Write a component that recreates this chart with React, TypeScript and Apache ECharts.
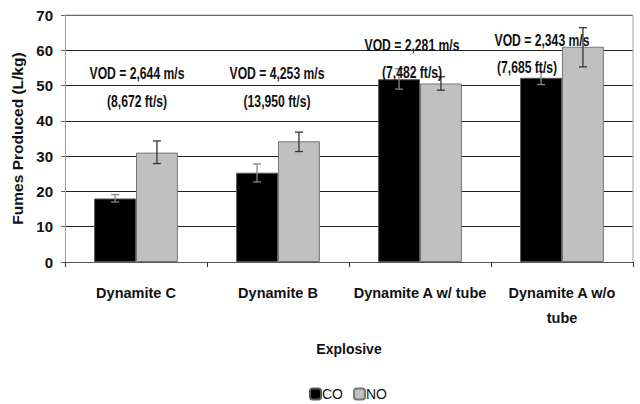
import React, { useEffect, useRef } from "react";
import * as echarts from "echarts";

const categories = ["Dynamite C", "Dynamite B", "Dynamite A w/ tube", "Dynamite A w/o\ntube"];
const coValues = [18.0, 25.3, 51.8, 52.2];
const coLow = [17.0, 22.7, 49.0, 50.3];
const coHigh = [19.1, 27.8, 54.8, 54.0];
const noValues = [31.0, 34.2, 50.6, 61.0];
const noLow = [27.9, 31.3, 48.7, 55.3];
const noHigh = [34.3, 36.8, 52.5, 66.4];
const yTicks = [0, 10, 20, 30, 40, 50, 60, 70];
const vodLines = [
  ["VOD = 2,644 m/s", "(8,672 ft/s)"],
  ["VOD = 4,253 m/s", "(13,950 ft/s)"],
  ["VOD = 2,281 m/s", "(7,482 ft/s)"],
  ["VOD = 2,343 m/s", "(7,685 ft/s)"],
];

const FONT = "'Liberation Sans', Arial, sans-serif";
const GAP = 0.41;

function errorSeries(name: string, low: number[], high: number[], side: number, color: string) {
  return {
    type: "custom",
    name,
    z: 10,
    renderItem: (params: any, api: any) => {
      const idx = api.value(0);
      const lo = api.coord([idx, api.value(1)]);
      const hi = api.coord([idx, api.value(2)]);
      const band = api.size([1, 0])[0];
      const bw = (band * (1 - GAP)) / 2;
      const x = lo[0] + (side * bw) / 2;
      const cap = 4;
      const style = { stroke: color, lineWidth: 1.3 };
      return {
        type: "group",
        children: [
          { type: "line", shape: { x1: x, y1: lo[1], x2: x, y2: hi[1] }, style },
          { type: "line", shape: { x1: x - cap, y1: lo[1], x2: x + cap, y2: lo[1] }, style },
          { type: "line", shape: { x1: x - cap, y1: hi[1], x2: x + cap, y2: hi[1] }, style },
        ],
      };
    },
    data: low.map((l, i) => [i, l, high[i]]),
    tooltip: { show: false },
  };
}

export default function App() {
  const ref = useRef<HTMLDivElement>(null);
  useEffect(() => {
    document.body.style.margin = "0";
    const chart = echarts.init(ref.current!, null, { renderer: "svg" });
    const textStyle = { fontFamily: FONT, fontWeight: "bold", fontSize: 16, fill: "#111" } as any;
    const annPos = [
      [137, 73, 137, 101],
      [277, 73, 277, 101],
      [412, 45, 412, 72],
      [542, 40, 527, 67],
    ];
    const graphics: any[] = [];
    vodLines.forEach((lines, i) => {
      const p = annPos[i];
      graphics.push({ type: "text", x: p[0], y: p[1], scaleX: 0.76, z: 20, style: { ...textStyle, text: lines[0], align: "center", verticalAlign: "middle" } });
      graphics.push({ type: "text", x: p[2], y: p[3], scaleX: 0.76, z: 20, style: { ...textStyle, text: lines[1], align: "center", verticalAlign: "middle" } });
    });
    // gray top and right border of plot area
    graphics.push({ type: "line", z: 5, shape: { x1: 65, y1: 15, x2: 633, y2: 15 }, style: { stroke: "#b0b0b0", lineWidth: 1.2 } });
    graphics.push({ type: "line", z: 5, shape: { x1: 633, y1: 15, x2: 633, y2: 262 }, style: { stroke: "#b0b0b0", lineWidth: 1.2 } });

    chart.setOption({
      animation: false,
      textStyle: { fontFamily: FONT },
      grid: { left: 65, right: 7, top: 15, bottom: 142 },
      legend: {
        top: 387,
        left: 309,
        padding: 0,
        itemWidth: 11,
        itemHeight: 11,
        itemGap: 10,
        textStyle: { fontFamily: FONT, fontSize: 14, color: "#111", padding: [0, 0, 0, -4] },
        data: ["CO", "NO"],
      },
      xAxis: {
        type: "category",
        data: categories,
        name: "Explosive",
        nameLocation: "middle",
        nameGap: 80,
        nameTextStyle: { fontFamily: FONT, fontWeight: "bold", fontSize: 14, color: "#111" },
        axisLine: { lineStyle: { color: "#555", width: 1 } },
        axisTick: { show: true, length: 5, lineStyle: { color: "#333" } },
        axisLabel: { fontFamily: FONT, fontWeight: "bold", fontSize: 14.5, color: "#111", margin: 18, lineHeight: 25, interval: 0 },
      },
      yAxis: {
        type: "value",
        min: 0,
        max: 70,
        interval: 10,
        name: "Fumes Produced (L/kg)",
        nameLocation: "middle",
        nameGap: 38,
        nameTextStyle: { fontFamily: FONT, fontWeight: "bold", fontSize: 15.5, color: "#111" },
        axisLine: { show: true, lineStyle: { color: "#999", width: 1 } },
        axisTick: { show: true, length: 4, lineStyle: { color: "#666" } },
        axisLabel: {
          fontFamily: FONT, fontWeight: "bold", fontSize: 15, color: "#111", margin: 12,
          formatter: (v: number) => (yTicks.includes(v) ? String(v) : ""),
        },
        splitLine: { lineStyle: { color: "#222", width: 1 } },
      },
      series: [
        {
          name: "CO",
          type: "bar",
          data: coValues,
          barGap: "0%",
          barCategoryGap: "41%",
          itemStyle: { color: "#000000", borderColor: "#555", borderWidth: 1 },
        },
        {
          name: "NO",
          type: "bar",
          data: noValues,
          barGap: "0%",
          barCategoryGap: "41%",
          itemStyle: { color: "#c0c0c0", borderColor: "#777", borderWidth: 1 },
        },
        errorSeries("CO err", coLow, coHigh, -1, "#888"),
        errorSeries("NO err", noLow, noHigh, 1, "#333"),
      ],
      graphic: graphics,
    });
    return () => chart.dispose();
  }, []);
  return <div ref={ref} style={{ width: 640, height: 404 }} />;
}
